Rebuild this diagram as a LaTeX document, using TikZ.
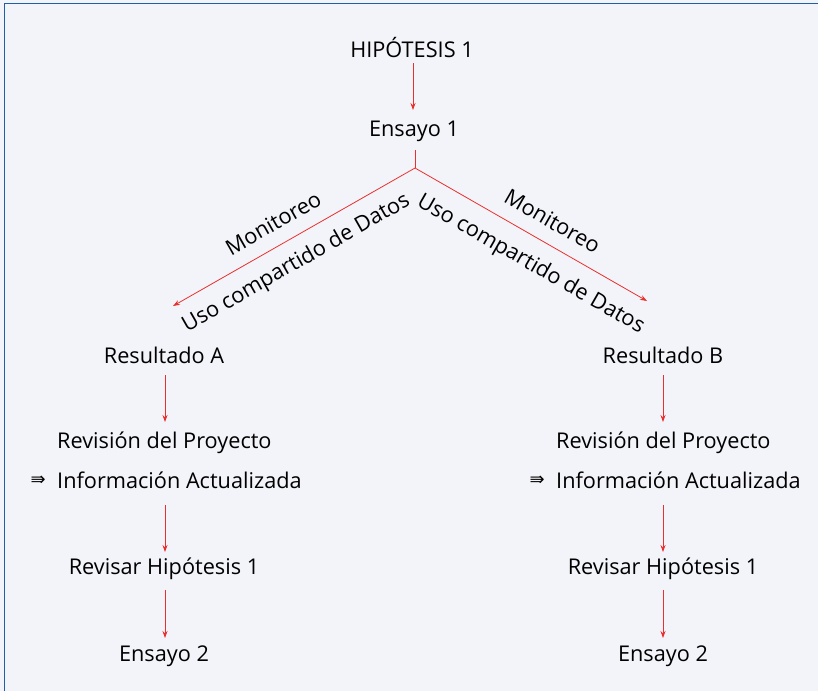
\documentclass[tikz,border=0pt]{standalone}
\usepackage{fontspec}
\setmainfont{Open Sans}
\newfontfamily\symfont{DejaVu Sans}
\usetikzlibrary{arrows.meta}
\definecolor{bgc}{HTML}{F3F4F9}
\definecolor{framec}{HTML}{1F5FA8}
\definecolor{arrc}{HTML}{E8302E}
\begin{document}
\begin{tikzpicture}[x=1pt,y=-1pt,
  lbl/.style={inner sep=1pt,font=\fontsize{21.7}{25}\selectfont},
  conn/.style={draw=arrc,line width=0.8pt},
  arr/.style={conn,-{Stealth[length=7pt,width=5pt]}}]
\useasboundingbox (0,0) rectangle (818,691);
\fill[bgc] (0,0) rectangle (818,691);
\draw[framec,line width=1.6pt] (4.5,691) -- (4.5,3.5) -- (818,3.5);
% top
\node[lbl] (h1) at (412,47) {HIPÓTESIS 1};
\node[lbl] (e1) at (414,131) {Ensayo 1};
\coordinate (j) at (415,168);
\coordinate (la) at (173,306);
\coordinate (lb) at (647,301);
\draw[arr] (413,63) -- (413,110);
\draw[conn] (415,150) -- (j);
\draw[arr] (j) -- (la)
  node[lbl,pos=0.54,sloped,above=13pt] (ma) {Monitoreo}
  node[lbl,pos=0.54,sloped,below=12pt] (ua) {Uso compartido de Datos};
\draw[arr] (j) -- (lb)
  node[lbl,pos=0.545,sloped,above=13pt] (mb) {Monitoreo}
  node[lbl,pos=0.555,sloped,below=14pt] (ub) {Uso compartido de Datos};
% left column
\node[lbl] (ra) at (164,355) {Resultado A};
\node[lbl,anchor=west] (rpa) at (56,443) {Revisión del Proyecto};
\node[lbl,anchor=west] (iaa) at (56,480) {Información Actualizada};
\node[anchor=east,inner sep=0pt] (sa) at (46,481) {\symfont\fontsize{18}{20}\selectfont ⇛};
\node[lbl] (rha) at (164,569) {Revisar Hipótesis 1};
\node[lbl] (e2a) at (164,656) {Ensayo 2};
\draw[arr] (165,375) -- (165,422);
\draw[arr] (165,505) -- (165,552);
\draw[arr] (165,590) -- (165,638);
% right column
\node[lbl] (rb) at (663,355) {Resultado B};
\node[lbl,anchor=west] (rpb) at (555,443) {Revisión del Proyecto};
\node[lbl,anchor=west] (iab) at (555,480) {Información Actualizada};
\node[anchor=east,inner sep=0pt] (sb) at (545,481) {\symfont\fontsize{18}{20}\selectfont ⇛};
\node[lbl] (rhb) at (663,569) {Revisar Hipótesis 1};
\node[lbl] (e2b) at (663,656) {Ensayo 2};
\draw[arr] (663,375) -- (663,422);
\draw[arr] (663,505) -- (663,552);
\draw[arr] (663,590) -- (663,638);
\end{tikzpicture}
\end{document}
